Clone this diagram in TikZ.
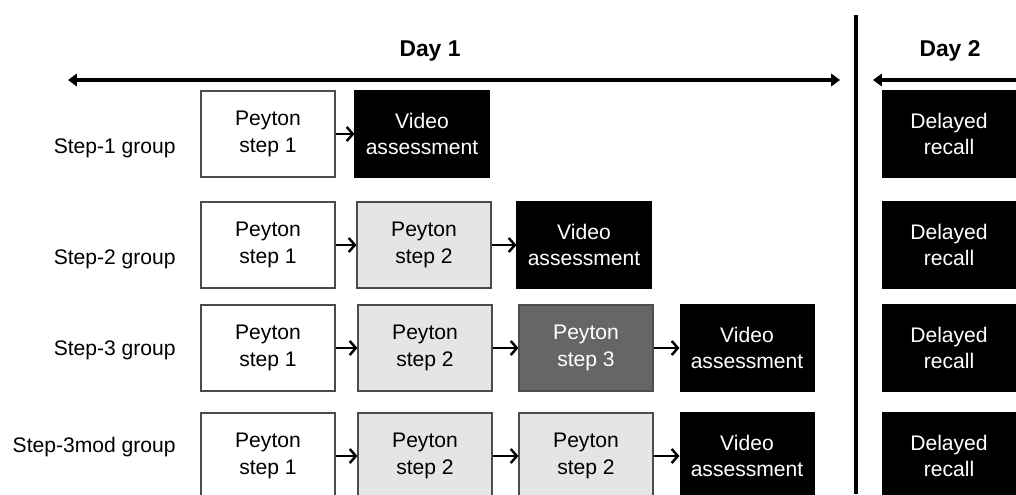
\documentclass[tikz,border=0pt]{standalone}
\usepackage{fontspec}
\setmainfont{Liberation Sans}
\usetikzlibrary{arrows.meta}

\tikzset{
  box/.style={draw=black!70, line width=0.6pt, minimum width=2.68cm, minimum height=1.72cm,
    align=center, font=\fontsize{12}{15}\selectfont},
  stepone/.style={box, fill=white},
  steptwo/.style={box, fill=black!10},
  stepthree/.style={box, fill=black!60, text=white},
  dark/.style={box, fill=black, draw=black, text=white},
  group/.style={anchor=east, inner sep=0pt, font=\fontsize{12}{15}\selectfont},
  day/.style={font=\fontsize{13}{15}\bfseries\selectfont},
  link/.style={-{Straight Barb[length=3.5pt,width=8pt,line width=1.4pt]}, line width=1.5pt},
  span/.style={line width=2.3pt}
}

\begin{document}
\begin{tikzpicture}[x=0.02cm,y=-0.02cm]
  \clip (0,0) rectangle (1016,494);

  % days
  \node[day] (day1) at (430,51) {Day 1};
  \node[day] (day2) at (950,51) {Day 2};
  \coordinate (d1l) at (68,80);
  \coordinate (d1r) at (840,80);
  \coordinate (d2l) at (873,80);
  \coordinate (d2r) at (1016,80);
  \coordinate (top) at (856,15);
  \coordinate (bottom) at (856,494);
  \draw[span,{Triangle[length=5pt,width=7pt]}-{Triangle[length=5pt,width=7pt]}] (d1l) -- (d1r);
  \draw[span,{Triangle[length=5pt,width=7pt]}-] (d2l) -- (d2r);
  \draw[line width=2.8pt] (top) -- (bottom);

  % groups
  \node[group] (g1) at (176,148) {Step-1 group};
  \node[group] (g2) at (176,259) {Step-2 group};
  \node[group] (g3) at (176,350) {Step-3 group};
  \node[group] (g4) at (176,447) {Step-3mod group};

  % step-1 group
  \node[stepone] (a1) at (268,134) {Peyton\\step 1};
  \node[dark] (a2) at (422,134) {Video\\assessment};
  \node[dark] (a3) at (949,134) {Delayed\\recall};
  \draw[link] (a1) -- (a2);

  % step-2 group
  \node[stepone] (b1) at (268,245) {Peyton\\step 1};
  \node[steptwo] (b2) at (424,245) {Peyton\\step 2};
  \node[dark] (b3) at (584,245) {Video\\assessment};
  \node[dark] (b4) at (949,245) {Delayed\\recall};
  \draw[link] (b1) -- (b2);
  \draw[link] (b2) -- (b3);

  % step-3 group
  \node[stepone] (c1) at (268,348) {Peyton\\step 1};
  \node[steptwo] (c2) at (425,348) {Peyton\\step 2};
  \node[stepthree] (c3) at (586,348) {Peyton\\step 3};
  \node[dark] (c4) at (747,348) {Video\\assessment};
  \node[dark] (c5) at (949,348) {Delayed\\recall};
  \draw[link] (c1) -- (c2);
  \draw[link] (c2) -- (c3);
  \draw[link] (c3) -- (c4);

  % step-3mod group
  \node[stepone] (d1) at (268,456) {Peyton\\step 1};
  \node[steptwo] (d2) at (425,456) {Peyton\\step 2};
  \node[steptwo] (d3) at (586,456) {Peyton\\step 2};
  \node[dark] (d4) at (747,456) {Video\\assessment};
  \node[dark] (d5) at (949,456) {Delayed\\recall};
  \draw[link] (d1) -- (d2);
  \draw[link] (d2) -- (d3);
  \draw[link] (d3) -- (d4);
\end{tikzpicture}
\end{document}
